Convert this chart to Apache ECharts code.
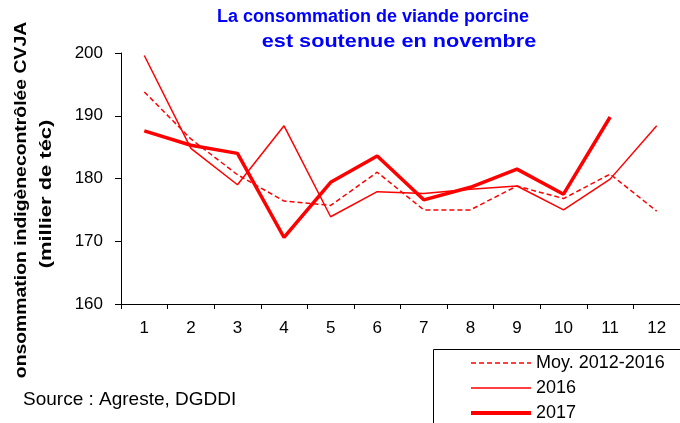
<!DOCTYPE html>
<html>
<head>
<meta charset="utf-8">
<script src="https://cdn.jsdelivr.net/npm/echarts@6/dist/echarts.min.js"></script>
<style>
  html, body { margin: 0; padding: 0; background: #fff; }
  #chart { width: 680px; height: 423px; }
</style>
</head>
<body>
<div id="chart"></div>
<script>
// mois
const months = ['1', '2', '3', '4', '5', '6', '7', '8', '9', '10', '11', '12'];
// moyenne 2012-2016
const moy = [193.8, 186.3, 180.6, 176.4, 175.7, 181.0, 175.0, 175.0, 178.8, 176.8, 180.7, 174.8];
// 2016
const y2016 = [199.6, 184.8, 179.0, 188.4, 173.9, 177.9, 177.6, 178.3, 178.8, 175.0, 179.9, 188.4];
// 2017 (jusqu'en novembre)
const y2017 = [187.6, 185.3, 184.0, 170.6, 179.4, 183.6, 176.6, 178.6, 181.5, 177.5, 189.8, null];

const font = 'Liberation Sans, Arial, sans-serif';

const chart = echarts.init(document.getElementById('chart'));
const option = {
  animation: false,
  grid: {
    left: 121,
    right: -7,
    top: 53,
    bottom: 119,
    containLabel: false,
  },
  legend: {
    orient: 'vertical',
    left: 469,
    top: 354,
    height: 100,
    padding: 0,
    itemWidth: 60,
    itemHeight: 14,
    itemGap: 7,
    data: [
      { name: 'Moy. 2012-2016', lineStyle: { width: 1.5 } },
      { name: '2016', lineStyle: { width: 1.5 } },
      { name: '2017', lineStyle: { width: 4 } },
    ],
    itemStyle: { opacity: 0 },
    textStyle: { color: '#000', fontSize: 18, fontFamily: font },
  },
  xAxis: {
    type: 'category',
    data: months,
    axisLine: { lineStyle: { color: '#000', width: 1 } },
    axisTick: { show: true, length: 5, lineStyle: { color: '#000' } },
    axisLabel: { color: '#000', fontSize: 17, fontFamily: font, margin: 16 },
  },
  yAxis: {
    type: 'value',
    min: 160,
    max: 200,
    interval: 10,
    axisLine: { show: true, lineStyle: { color: '#000', width: 1 } },
    axisTick: { show: true, length: 6, lineStyle: { color: '#000' } },
    splitLine: { show: false },
    axisLabel: { color: '#000', fontSize: 17, fontFamily: font, margin: 18 },
  },
  graphic: [
    // titre
    {
      type: 'text',
      x: 373,
      y: 26,
      style: {
        text: 'La consommation de viande porcine',
        font: 'bold 18px ' + font,
        fill: '#0000FF',
        align: 'center',
        verticalAlign: 'bottom',
      },
    },
    {
      type: 'text',
      x: 399,
      y: 51,
      scaleX: 1.14,
      style: {
        text: 'est soutenue en novembre',
        font: 'bold 19px ' + font,
        fill: '#0000FF',
        align: 'center',
        verticalAlign: 'bottom',
      },
    },
    // nom de l'axe y
    {
      type: 'text',
      x: 21,
      y: 200,
      rotation: Math.PI / 2,
      scaleX: 1.14,
      style: {
        text: 'onsommation indigènecontrôlée CVJA',
        font: 'bold 17px ' + font,
        fill: '#000',
        align: 'center',
        verticalAlign: 'middle',
      },
    },
    {
      type: 'text',
      x: 46,
      y: 194,
      rotation: Math.PI / 2,
      scaleX: 1.29,
      style: {
        text: '(millier de téc)',
        font: 'bold 17px ' + font,
        fill: '#000',
        align: 'center',
        verticalAlign: 'middle',
      },
    },
    {
      type: 'text',
      x: 23,
      y: 400,
      style: {
        text: 'Source : Agreste, DGDDI',
        font: '19px ' + font,
        fill: '#000',
        verticalAlign: 'middle',
      },
    },
    // cadre de la légende
    {
      type: 'rect',
      shape: { x: 433.5, y: 349.5, width: 300, height: 100 },
      style: { fill: 'none', stroke: '#000', lineWidth: 1 },
    },
  ],
  series: [
    {
      name: 'Moy. 2012-2016',
      type: 'line',
      symbol: 'none',
      data: moy,
      lineStyle: { color: '#FF0000', width: 1.5, type: [5, 3] },
      itemStyle: { color: '#FF0000' },
    },
    {
      name: '2016',
      type: 'line',
      symbol: 'none',
      data: y2016,
      lineStyle: { color: '#FF0000', width: 1.5 },
      itemStyle: { color: '#FF0000' },
    },
    {
      name: '2017',
      type: 'line',
      symbol: 'none',
      data: y2017,
      lineStyle: { color: '#FF0000', width: 3.5 },
      itemStyle: { color: '#FF0000' },
    },
  ],
};
chart.setOption(option);
</script>
</body>
</html>
